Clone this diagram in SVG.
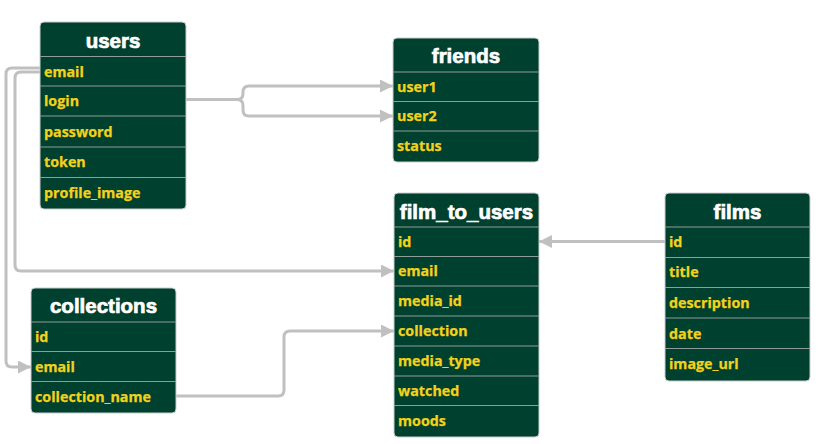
<svg xmlns="http://www.w3.org/2000/svg" width="819" height="444" viewBox="0 0 819 444">
<defs>
<style>
.box{fill:#00402e;stroke:#c9cfcc;stroke-width:1}
.sep{stroke:#8f9c97;stroke-width:1.2}
.hd{font-family:"Liberation Sans",Arial,sans-serif;font-weight:bold;font-size:20.5px;fill:#ffffff;stroke:#ffffff;stroke-width:0.7;text-anchor:middle}
.fld{font-family:"Open Sans","DejaVu Sans",sans-serif;font-weight:700;font-size:14.3px;fill:#f3d21c;stroke:#f3d21c;stroke-width:0.25}
.con{fill:none;stroke:#c0c0c0;stroke-width:3}
</style>
<marker id="arr" markerUnits="userSpaceOnUse" markerWidth="14" markerHeight="14" refX="13" refY="6.5" orient="auto">
<path d="M0,0 L13,6.5 L0,13 z" fill="#c0c0c0"/>
</marker>
</defs>
<rect width="819" height="444" fill="#ffffff"/>

<g id="connectors">
<path class="con" d="M40,68 H12 Q6,68 6,74 V361 Q6,367 12,367 H31" marker-end="url(#arr)"/>
<path class="con" d="M40,72 H21 Q15,72 15,78 V265 Q15,271 21,271 H394" marker-end="url(#arr)"/>
<path class="con" d="M186,99.5 H237 Q243,99.5 243,93.5 V92 Q243,86 249,86 H393" marker-end="url(#arr)"/>
<path class="con" d="M186,99.5 H237 Q243,99.5 243,105.5 V110 Q243,116 249,116 H393" marker-end="url(#arr)"/>
<path class="con" d="M665,241.5 H539" marker-end="url(#arr)"/>
<path class="con" d="M176,396 H278 Q284,396 284,390 V337 Q284,331 290,331 H394" marker-end="url(#arr)"/>
</g>

<g id="users">
<rect class="box" x="40" y="22" width="146" height="187" rx="4"/>
<line class="sep" x1="40" y1="56.5" x2="186" y2="56.5"/>
<line class="sep" x1="40" y1="86" x2="186" y2="86"/>
<line class="sep" x1="40" y1="116" x2="186" y2="116"/>
<line class="sep" x1="40" y1="147" x2="186" y2="147"/>
<line class="sep" x1="40" y1="177.5" x2="186" y2="177.5"/>
<text class="hd" x="113" y="48">users</text>
<text class="fld" x="44" y="76.5">email</text>
<text class="fld" x="44" y="106">login</text>
<text class="fld" x="44" y="136.5">password</text>
<text class="fld" x="44" y="167">token</text>
<text class="fld" x="44" y="198">profile_image</text>
</g>

<g id="friends">
<rect class="box" x="393" y="38" width="146" height="124" rx="4"/>
<line class="sep" x1="393" y1="72" x2="539" y2="72"/>
<line class="sep" x1="393" y1="101.5" x2="539" y2="101.5"/>
<line class="sep" x1="393" y1="131" x2="539" y2="131"/>
<text class="hd" x="466" y="63">friends</text>
<text class="fld" x="397" y="91.5">user1</text>
<text class="fld" x="397" y="121">user2</text>
<text class="fld" x="397" y="151">status</text>
</g>

<g id="film_to_users">
<rect class="box" x="394" y="193" width="145" height="244" rx="4"/>
<line class="sep" x1="394" y1="227" x2="539" y2="227"/>
<line class="sep" x1="394" y1="256.5" x2="539" y2="256.5"/>
<line class="sep" x1="394" y1="286" x2="539" y2="286"/>
<line class="sep" x1="394" y1="316" x2="539" y2="316"/>
<line class="sep" x1="394" y1="346" x2="539" y2="346"/>
<line class="sep" x1="394" y1="376" x2="539" y2="376"/>
<line class="sep" x1="394" y1="405.5" x2="539" y2="405.5"/>
<text class="hd" x="466.5" y="218.5">film_to_users</text>
<text class="fld" x="398" y="246.5">id</text>
<text class="fld" x="398" y="276">email</text>
<text class="fld" x="398" y="306">media_id</text>
<text class="fld" x="398" y="336">collection</text>
<text class="fld" x="398" y="366">media_type</text>
<text class="fld" x="398" y="395.5">watched</text>
<text class="fld" x="398" y="425.5">moods</text>
</g>

<g id="films">
<rect class="box" x="665" y="193" width="145" height="188" rx="4"/>
<line class="sep" x1="665" y1="227" x2="810" y2="227"/>
<line class="sep" x1="665" y1="257.5" x2="810" y2="257.5"/>
<line class="sep" x1="665" y1="287.5" x2="810" y2="287.5"/>
<line class="sep" x1="665" y1="318" x2="810" y2="318"/>
<line class="sep" x1="665" y1="348.5" x2="810" y2="348.5"/>
<text class="hd" x="737.5" y="218.5">films</text>
<text class="fld" x="669" y="246.5">id</text>
<text class="fld" x="669" y="277">title</text>
<text class="fld" x="669" y="307.5">description</text>
<text class="fld" x="669" y="338.5">date</text>
<text class="fld" x="669" y="369">image_url</text>
</g>

<g id="collections">
<rect class="box" x="31" y="288" width="145" height="125" rx="4"/>
<line class="sep" x1="31" y1="322" x2="176" y2="322"/>
<line class="sep" x1="31" y1="351.5" x2="176" y2="351.5"/>
<line class="sep" x1="31" y1="381.5" x2="176" y2="381.5"/>
<text class="hd" x="103.5" y="313">collections</text>
<text class="fld" x="35" y="342">id</text>
<text class="fld" x="35" y="371.5">email</text>
<text class="fld" x="35" y="402">collection_name</text>
</g>
</svg>
